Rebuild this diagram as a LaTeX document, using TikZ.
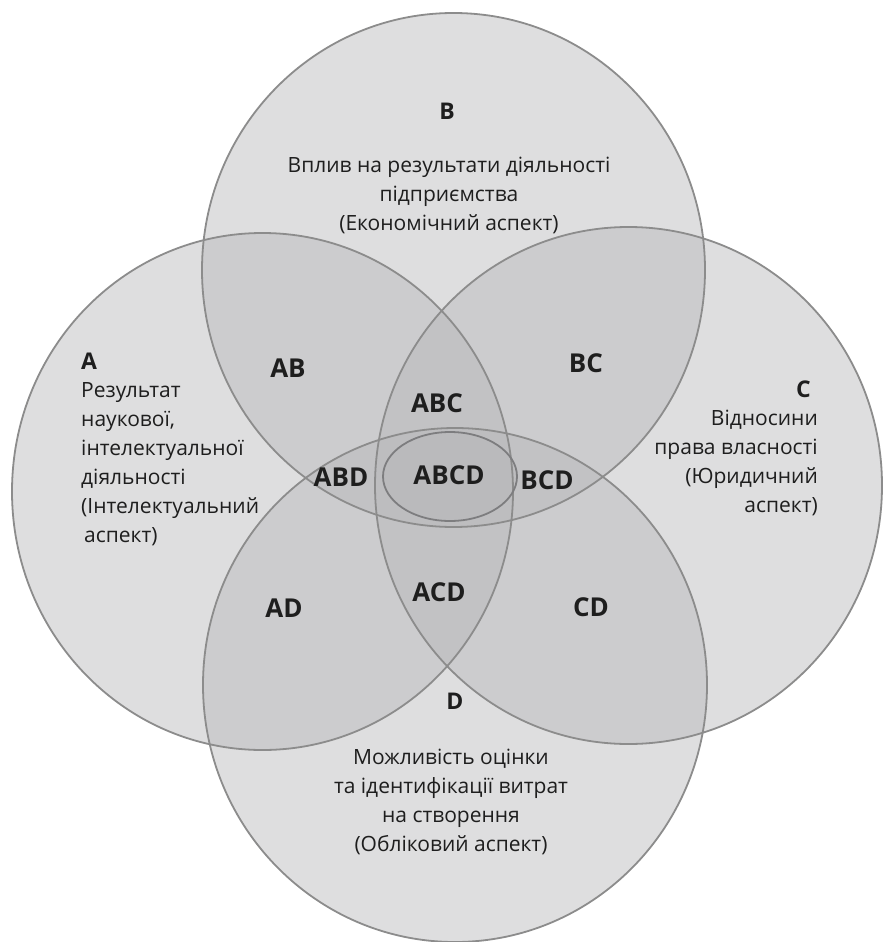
\documentclass[tikz,border=0pt]{standalone}
\usepackage{fontspec}
\setmainfont{Open Sans}
\definecolor{circfill}{RGB}{184,184,186}
\definecolor{circline}{RGB}{140,140,140}
\definecolor{ellline}{RGB}{125,125,127}
\definecolor{txt}{RGB}{30,30,30}
\begin{document}
\begin{tikzpicture}[x=1pt,y=-1pt,
  setfill/.style={fill=circfill,fill opacity=0.45},
  setline/.style={draw=circline,line width=1.8pt},
  body/.style={font=\fontsize{21}{29}\selectfont,text=txt,inner sep=0pt},
  head/.style={font=\fontsize{23}{28}\selectfont\bfseries,text=txt,inner sep=0pt},
  zone/.style={font=\fontsize{26}{30}\selectfont\bfseries,text=txt,inner sep=0pt}]
\fill[white] (0,0) rectangle (883,942);
\useasboundingbox (0,0) rectangle (883,942);
% fills
\fill[setfill] (453.5,270) ellipse [x radius=251.5,y radius=257];
\fill[setfill] (262.5,491.5) ellipse [x radius=250.5,y radius=258.5];
\fill[setfill] (628.5,485.5) ellipse [x radius=253.5,y radius=258.5];
\fill[setfill] (455,685) ellipse [x radius=252,y radius=257];
\fill[setfill] (450,476.5) ellipse [x radius=67,y radius=44.5];
% outlines
\draw[setline] (453.5,270) ellipse [x radius=251.5,y radius=257];
\draw[setline] (262.5,491.5) ellipse [x radius=250.5,y radius=258.5];
\draw[setline] (628.5,485.5) ellipse [x radius=253.5,y radius=258.5];
\draw[setline] (455,685) ellipse [x radius=252,y radius=257];
\draw[draw=ellline,line width=1.8pt] (450,476.5) ellipse [x radius=67,y radius=44.5];
% headings
\node[head] (hB) at (447,111) {B};
\node[head,anchor=west] (hA) at (81,361) {A};
\node[head,anchor=east] (hC) at (811,389) {C};
\node[head] (hD) at (455,701) {D};
% bodies
\node[body,align=center] (tB) at (449,195) {Вплив на результати діяльності\\підприємства\\(Економічний аспект)};
\node[body,align=left,anchor=west] (tA) at (81,464) {Результат\\наукової,\\інтелектуальної\\діяльності\\(Інтелектуальний\\\hspace*{3pt}аспект)};
\node[body,align=right,anchor=east] (tC) at (818,463) {Відносини\\права власності\\(Юридичний\\аспект)};
\node[body,align=center] (tD) at (451,802) {Можливість оцінки\\та ідентифікації витрат\\на створення\\(Обліковий аспект)};
% zones
\node[zone] (AB) at (288,368) {AB};
\node[zone] (BC) at (586,363) {BC};
\node[zone] (ABC) at (437,403) {ABC};
\node[zone] (ABD) at (341,477) {ABD};
\node[zone] (ABCD) at (449,475) {ABCD};
\node[zone] (BCD) at (547,480) {BCD};
\node[zone] (ACD) at (439,592) {ACD};
\node[zone] (AD) at (284,608) {AD};
\node[zone] (CD) at (591,607) {CD};
\end{tikzpicture}
\end{document}
